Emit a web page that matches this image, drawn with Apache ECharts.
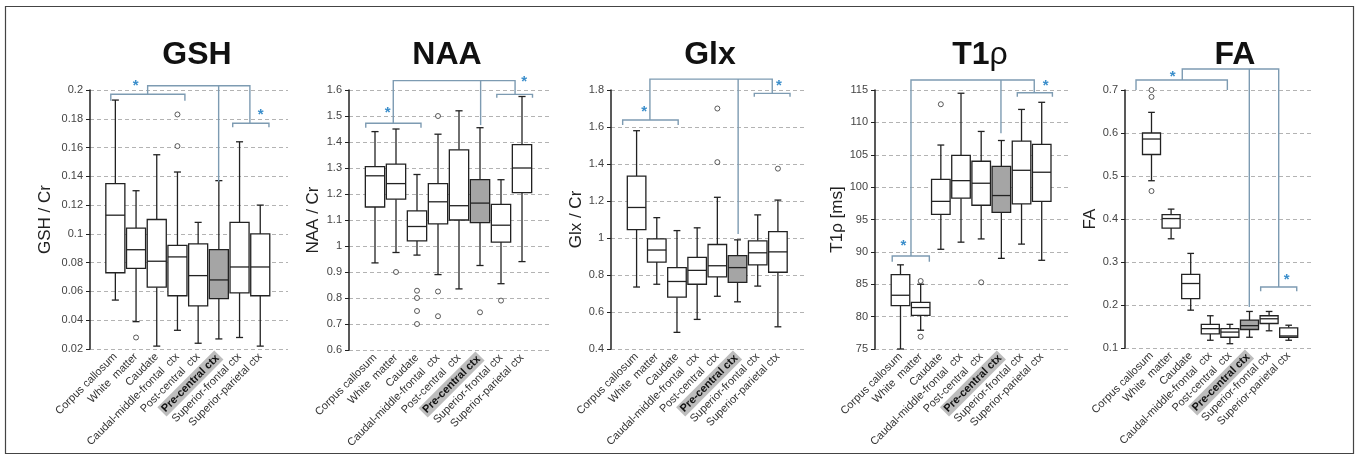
<!DOCTYPE html>
<html>
<head>
<meta charset="utf-8">
<script src="https://cdn.jsdelivr.net/npm/echarts@6/dist/echarts.min.js"></script>
<style>
  html, body { margin: 0; padding: 0; background: #fff; }
  #chart { width: 1357px; height: 459px; }
</style>
</head>
<body>
<div id="chart"></div>
<script>
const categories = ['Corpus callosum', 'White  matter', 'Caudate', 'Caudal-middle-frontal  ctx',
  'Post-central  ctx', 'Pre-central ctx', 'Superior-frontal ctx', 'Superior-parietal ctx'];
const highlighted = 'Pre-central ctx';

// boxes: [min, Q1, median, Q3, max] per category, outliers: [category index, value]
// axis: [min, max, interval], brackets: polylines of [category position, value]
const gshBoxes = [
  [0.054, 0.073, 0.113, 0.135, 0.193], [0.039, 0.076, 0.089, 0.104, 0.130],
  [0.022, 0.063, 0.081, 0.110, 0.155], [0.033, 0.057, 0.084, 0.092, 0.143],
  [0.024, 0.050, 0.071, 0.093, 0.108], [0.027, 0.055, 0.068, 0.089, 0.137],
  [0.028, 0.059, 0.077, 0.108, 0.164], [0.022, 0.057, 0.077, 0.100, 0.120]
];
const gshOutliers = [[1, 0.028], [3, 0.161], [3, 0.183]];
const gshAxis = [0.02, 0.2, 0.02];
const gshBrackets = [
  [[-0.22, 0.1926], [-0.22, 0.197], [3.36, 0.197], [3.36, 0.1926]],
  [[1.56, 0.197], [1.56, 0.203], [6.5, 0.203], [6.5, 0.1769]],
  [[4.99, 0.203], [4.99, 0.1363]],
  [[5.67, 0.1741], [5.67, 0.1769], [7.42, 0.1769], [7.42, 0.1741]]
];
const gshStars = [[0.98, 0.2047], [7.02, 0.1849]];

const naaBoxes = [
  [0.935, 1.150, 1.270, 1.305, 1.440], [0.975, 1.180, 1.240, 1.315, 1.450],
  [0.965, 1.020, 1.075, 1.135, 1.275], [0.890, 1.085, 1.170, 1.240, 1.430],
  [0.835, 1.100, 1.155, 1.370, 1.520], [0.925, 1.090, 1.165, 1.255, 1.455],
  [0.855, 1.015, 1.080, 1.160, 1.255], [0.940, 1.205, 1.300, 1.390, 1.575]
];
const naaOutliers = [[1, 0.90], [2, 0.828], [2, 0.80], [2, 0.75], [2, 0.70],
  [3, 1.50], [3, 0.825], [3, 0.73], [5, 0.745], [6, 0.79]];
const naaAxis = [0.6, 1.6, 0.1];
const naaBrackets = [
  [[-0.44, 1.455], [-0.44, 1.472], [2.19, 1.472], [2.19, 1.455]],
  [[0.87, 1.472], [0.87, 1.636], [6.67, 1.636], [6.67, 1.583]],
  [[5.03, 1.636], [5.03, 1.465]],
  [[5.8, 1.570], [5.8, 1.583], [7.5, 1.583], [7.5, 1.570]]
];
const naaStars = [[0.6, 1.523], [7.1, 1.642]];

const glxBoxes = [
  [0.735, 1.045, 1.165, 1.335, 1.580], [0.750, 0.870, 0.935, 0.995, 1.110],
  [0.490, 0.680, 0.765, 0.840, 1.040], [0.560, 0.750, 0.825, 0.895, 1.055],
  [0.685, 0.790, 0.850, 0.965, 1.220], [0.655, 0.760, 0.840, 0.905, 0.990],
  [0.740, 0.855, 0.920, 0.985, 1.125], [0.520, 0.815, 0.925, 1.035, 1.205]
];
const glxOutliers = [[4, 1.41], [4, 1.70], [7, 1.375]];
const glxAxis = [0.4, 1.8, 0.2];
const glxBrackets = [
  [[-0.69, 1.611], [-0.69, 1.638], [2.06, 1.638], [2.06, 1.611]],
  [[0.66, 1.638], [0.66, 1.859], [6.72, 1.859], [6.72, 1.782]],
  [[5.03, 1.859], [5.03, 1.022]],
  [[5.83, 1.764], [5.83, 1.782], [7.6, 1.782], [7.6, 1.764]]
];
const glxStars = [[0.38, 1.696], [7.05, 1.839]];

const t1rBoxes = [
  [75.0, 81.7, 83.3, 86.5, 88.0], [77.9, 80.2, 81.4, 82.2, 85.0],
  [90.4, 95.8, 97.8, 101.2, 106.5], [91.5, 98.3, 101.0, 104.9, 114.5],
  [92.0, 97.2, 100.6, 104.0, 108.6], [89.0, 96.1, 98.7, 103.2, 107.2],
  [91.2, 97.4, 102.6, 107.1, 112.0], [88.7, 97.8, 102.3, 106.6, 113.1]
];
const t1rOutliers = [[1, 85.5], [1, 76.9], [2, 112.8], [4, 85.3]];
const t1rAxis = [75, 115, 5];
const t1rBrackets = [
  [[-0.41, 88.48], [-0.41, 89.36], [1.43, 89.36], [1.43, 88.48]],
  [[0.52, 89.36], [0.52, 116.54], [6.63, 116.54], [6.63, 114.58]],
  [[4.98, 116.54], [4.98, 108.31]],
  [[5.79, 113.97], [5.79, 114.58], [7.53, 114.58], [7.53, 113.97]]
];
const t1rStars = [[0.14, 91.32], [7.2, 116.13]];

const faBoxes = [
  [0.489, 0.550, 0.586, 0.600, 0.648], [0.354, 0.379, 0.401, 0.410, 0.423],
  [0.188, 0.215, 0.250, 0.271, 0.320], [0.118, 0.133, 0.145, 0.155, 0.175],
  [0.110, 0.125, 0.137, 0.145, 0.155], [0.125, 0.143, 0.152, 0.165, 0.185],
  [0.140, 0.157, 0.168, 0.175, 0.185], [0.118, 0.125, 0.128, 0.147, 0.153]
];
const faOutliers = [[0, 0.700], [0, 0.684], [0, 0.465]];
const faAxis = [0.1, 0.7, 0.1];
const faBrackets = [
  [[-0.79, 0.700], [-0.79, 0.7233], [3.87, 0.7233], [3.87, 0.700]],
  [[1.57, 0.7233], [1.57, 0.749], [6.49, 0.749], [6.49, 0.242]],
  [[4.99, 0.749], [4.99, 0.1955]],
  [[5.57, 0.232], [5.57, 0.242], [7.41, 0.242], [7.41, 0.232]]
];
const faStars = [[1.08, 0.7365], [6.9, 0.2653]];

const panels = [
  { title: 'GSH', yName: 'GSH / Cr', boxes: gshBoxes, outliers: gshOutliers, axis: gshAxis, brackets: gshBrackets, stars: gshStars },
  { title: 'NAA', yName: 'NAA / Cr', boxes: naaBoxes, outliers: naaOutliers, axis: naaAxis, brackets: naaBrackets, stars: naaStars },
  { title: 'Glx', yName: 'Glx / Cr', boxes: glxBoxes, outliers: glxOutliers, axis: glxAxis, brackets: glxBrackets, stars: glxStars },
  { title: '{b|T1}{r|ρ}', yName: 'T1ρ [ms]', boxes: t1rBoxes, outliers: t1rOutliers, axis: t1rAxis, brackets: t1rBrackets, stars: t1rStars },
  { title: 'FA', yName: 'FA', boxes: faBoxes, outliers: faOutliers, axis: faAxis, brackets: faBrackets, stars: faStars }
];

// pixel layout of each panel
const layout = [
  { axisX: 90, bandStart: 105, bandEnd: 270.6, right: 288, bottom: 349, titleX: 197, nameGap: 36 },
  { axisX: 349, bandStart: 364.5, bandEnd: 532.5, right: 550, bottom: 350, titleX: 447, nameGap: 27 },
  { axisX: 611, bandStart: 626.5, bandEnd: 788, right: 805, bottom: 349, titleX: 710, nameGap: 25 },
  { axisX: 875, bandStart: 890.4, bandEnd: 1051.8, right: 1069, bottom: 349, titleX: 980, nameGap: 28 },
  { axisX: 1125, bandStart: 1141.7, bandEnd: 1298.5, right: 1313, bottom: 348, titleX: 1235, nameGap: 23 }
];

const font = "'Liberation Sans', Arial, sans-serif";
const ink = '#222';
const bracketColor = '#7d9bb2';
const starColor = '#3b8ecb';
const TOP = 90;

const chart = echarts.init(document.getElementById('chart'));

const grid = [], xAxis = [], yAxis = [], title = [], series = [];

panels.forEach((p, k) => {
  const L = layout[k];
  const back = 2 * k, front = 2 * k + 1;
  grid.push({ left: L.axisX, top: TOP, width: L.right - L.axisX, height: L.bottom - TOP });
  grid.push({ left: L.bandStart, top: TOP, width: L.bandEnd - L.bandStart, height: L.bottom - TOP });

  xAxis.push({ type: 'value', gridIndex: back, min: 0, max: 1, show: false });
  xAxis.push({
    type: 'category', gridIndex: front, data: categories,
    axisLine: { show: false }, axisTick: { show: false }, splitLine: { show: false },
    axisLabel: {
      interval: 0, rotate: 45, margin: 6, fontSize: 11, color: '#333', fontFamily: font,
      formatter: v => v === highlighted ? '{hl|' + v + '}' : v,
      rich: { hl: { fontWeight: 'bold', fontSize: 11, color: '#111', fontFamily: font, backgroundColor: '#bdbdbd', padding: [1, 2] } }
    }
  });

  yAxis.push({
    type: 'value', gridIndex: back, min: p.axis[0], max: p.axis[1], interval: p.axis[2],
    name: p.yName, nameLocation: 'middle', nameGap: L.nameGap,
    nameTextStyle: { fontSize: 17, color: ink, fontFamily: font },
    axisLine: { show: true, lineStyle: { color: ink, width: 1.5 } },
    axisTick: { show: true, length: 4, lineStyle: { color: ink } },
    axisLabel: { fontSize: 11, color: '#444', margin: 7, fontFamily: font },
    splitLine: { show: true, lineStyle: { color: '#b3b3b3', type: [4, 3] } }
  });
  yAxis.push({ type: 'value', gridIndex: front, min: p.axis[0], max: p.axis[1], interval: p.axis[2], show: false });

  title.push({
    text: p.title, left: L.titleX, top: 39, textAlign: 'center', padding: 0,
    textStyle: {
      fontSize: 32, fontWeight: 'bold', color: '#111', fontFamily: font,
      rich: { b: { fontSize: 32, fontWeight: 'bold', color: '#111', fontFamily: font },
              r: { fontSize: 32, fontWeight: 'normal', color: '#111', fontFamily: font } }
    }
  });

  series.push({
    type: 'custom', xAxisIndex: front, yAxisIndex: front, clip: false,
    data: p.boxes.map((b, i) => [i].concat(b)),
    encode: { x: 0, y: [1, 2, 3, 4, 5] },
    renderItem: (params, api) => {
      const i = api.value(0);
      const lo = api.coord([i, api.value(1)]);
      const q1 = api.coord([i, api.value(2)]);
      const md = api.coord([i, api.value(3)]);
      const q3 = api.coord([i, api.value(4)]);
      const hi = api.coord([i, api.value(5)]);
      const bw = api.coord([1, 0])[0] - api.coord([0, 0])[0];
      const half = bw * 0.46, cap = bw * 0.17, x = lo[0];
      const st = { stroke: ink, lineWidth: 1.3 };
      return {
        type: 'group', children: [
          { type: 'line', shape: { x1: x, y1: hi[1], x2: x, y2: q3[1] }, style: st },
          { type: 'line', shape: { x1: x, y1: q1[1], x2: x, y2: lo[1] }, style: st },
          { type: 'line', shape: { x1: x - cap, y1: hi[1], x2: x + cap, y2: hi[1] }, style: st },
          { type: 'line', shape: { x1: x - cap, y1: lo[1], x2: x + cap, y2: lo[1] }, style: st },
          { type: 'rect', shape: { x: x - half, y: q3[1], width: half * 2, height: q1[1] - q3[1] },
            style: { fill: categories[i] === highlighted ? '#a5a5a5' : '#fff', stroke: ink, lineWidth: 1.3 } },
          { type: 'line', shape: { x1: x - half, y1: md[1], x2: x + half, y2: md[1] }, style: st }
        ]
      };
    }
  });

  series.push({
    type: 'scatter', xAxisIndex: front, yAxisIndex: front, data: p.outliers,
    symbol: 'circle', symbolSize: 5,
    itemStyle: { color: '#fff', borderColor: '#333', borderWidth: 1 }
  });

  series.push({
    type: 'custom', xAxisIndex: front, yAxisIndex: front, clip: false, silent: true,
    data: p.brackets.map(() => [0, p.axis[0]]),
    renderItem: (params, api) => {
      const bw = api.coord([1, 0])[0] - api.coord([0, 0])[0];
      const pts = p.brackets[params.dataIndex].map(([f, v]) => {
        const c = api.coord([0, v]);
        return [c[0] + f * bw, c[1]];
      });
      return { type: 'polyline', shape: { points: pts }, style: { stroke: bracketColor, lineWidth: 1.4, fill: 'none' } };
    }
  });

  series.push({
    type: 'custom', xAxisIndex: front, yAxisIndex: front, clip: false, silent: true,
    data: p.stars.map(s => [0, s[1]]),
    renderItem: (params, api) => {
      const bw = api.coord([1, 0])[0] - api.coord([0, 0])[0];
      const s = p.stars[params.dataIndex];
      const c = api.coord([0, s[1]]);
      return {
        type: 'text', x: c[0] + s[0] * bw, y: c[1] + 3,
        style: { text: '*', fill: starColor, fontSize: 15, fontWeight: 'bold', fontFamily: font, align: 'center', verticalAlign: 'middle' }
      };
    }
  });
});

chart.setOption({
  animation: false,
  backgroundColor: '#fff',
  title, grid, xAxis, yAxis, series,
  graphic: [{
    type: 'rect', silent: true,
    shape: { x: 5.5, y: 6.5, width: 1348, height: 447 },
    style: { fill: 'none', stroke: '#444', lineWidth: 1.2 }
  }]
});
</script>
</body>
</html>
